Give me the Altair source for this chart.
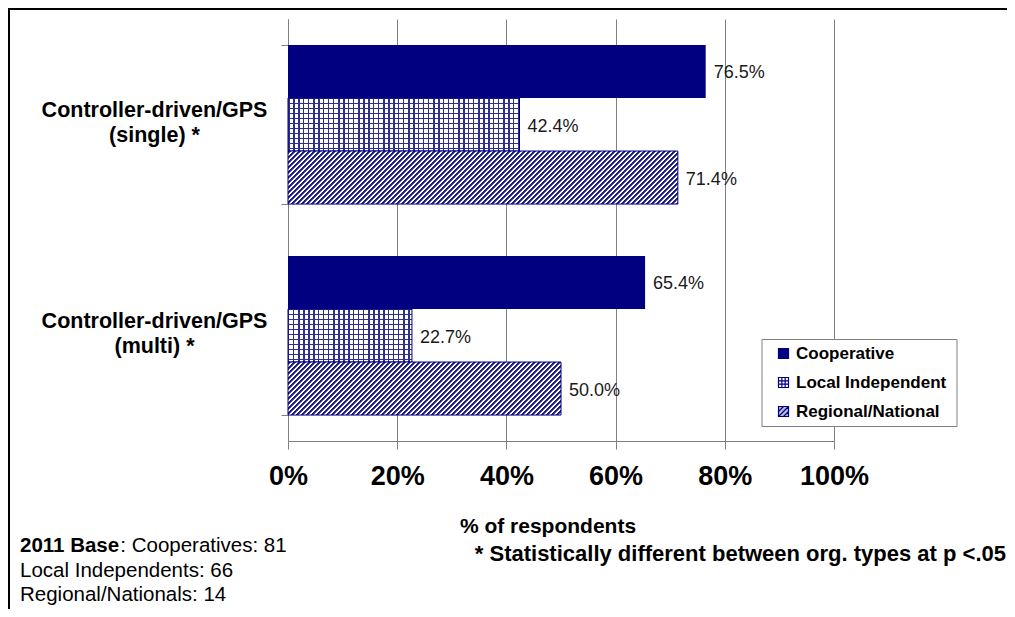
import json
import altair as alt
import pandas as pd

# ---------------- data ----------------
categories = ["Controller-driven/GPS (single) *", "Controller-driven/GPS (multi) *"]
orgs = ["Cooperative", "Local Independent", "Regional/National"]
coop = [76.5, 65.4]
local_ind = [42.4, 22.7]
regional = [71.4, 50.0]
x_ticks = [0, 20, 40, 60, 80, 100]
base_lines = ["Local Independents: 66", "Regional/Nationals: 14"]

# ---------------- style ----------------
FONT = "Liberation Sans, Arial, sans-serif"
NAVY = "#000080"
GRIDC = "#2e2e8c"
HATCH = "#1a1a85"
AXC = "#808080"
W, H = 546, 422
P_IN, P_OUT = 0.246, 0.123
step = H / (len(categories) - P_IN + 2 * P_OUT)
bar_h = step * (1 - P_IN) / len(orgs)

rows = []
for i, c in enumerate(categories):
    for o, vals in zip(orgs, [coop, local_ind, regional]):
        rows.append({"cat": c, "org": o, "value": vals[i], "label": f"{vals[i]:.1f}%"})
df = pd.DataFrame(rows)


def stripes(length, period, width, fg, bg):
    stops = [{"offset": 0, "color": bg}]
    c = 0.0
    while c < length:
        a = round(c / length, 5)
        b = round(min((c + width) / length, 1.0), 5)
        stops += [{"offset": a, "color": bg}, {"offset": a, "color": fg},
                  {"offset": b, "color": fg}, {"offset": b, "color": bg}]
        c += period
    stops.append({"offset": 1, "color": bg})
    return stops


def soft_stripes(length, period, fg, bg):
    # trapezoid profile: soft edges, ~50% coverage
    stops = []
    c = 0.0
    while c < length:
        for frac, col in [(0.0, bg), (0.2, fg), (0.55, fg), (0.75, bg)]:
            o = (c + frac * period) / length
            if o <= 1:
                stops.append({"offset": round(o, 5), "color": col})
        c += period
    stops.append({"offset": 1, "color": bg})
    return stops


def vgrad(w):
    return {"gradient": "linear", "x1": 0, "y1": 0, "x2": 1, "y2": 0,
            "stops": stripes(w, 5.0, 1.5, GRIDC, "#ffffff")}


def hgrad(h):
    return {"gradient": "linear", "x1": 0, "y1": 0, "x2": 0, "y2": 1,
            "stops": stripes(h, 5.0, 1.5, GRIDC, "rgba(255,255,255,0)")}


def dgrad(w, h):
    r = h / w
    a = (1 + r) / (1 + r * r)
    return {"gradient": "linear", "x1": 0, "y1": 0, "x2": a, "y2": a * r,
            "stops": soft_stripes(w + h, 5.0, HATCH, "#ffffff")}


xaxis = alt.Axis(
    values=x_ticks, labelExpr="datum.value + '%'", grid=True, gridColor=AXC, gridWidth=1,
    domainColor=AXC, tickColor=AXC, tickSize=8, labelFont=FONT, labelFontSize=27,
    labelFontWeight="bold", labelColor="black", labelPadding=14, labelFlush=False,
    labelOverlap=False,
    title="% of respondents", titleX=259.5, titleY=91, titleAlign="center",
    titleBaseline="alphabetic", titleFont=FONT, titleFontSize=21, titleFontWeight="bold",
    titleColor="black",
)
yaxis = alt.Axis(
    title=None, domainColor=AXC, tickColor=AXC, tickSize=7, tickBand="extent", grid=False,
    labelExpr="split(replace(datum.label, ' (', '|('), '|')", labelAlign="center",
    labelBaseline="middle", labelPadding=127, labelOffset=-14,
    labelFont=FONT, labelFontSize=21.5, labelFontWeight="bold", labelColor="black",
    labelLimit=400, labelLineHeight=25,
)

base = alt.Chart(df).encode(
    x=alt.X("value:Q", scale=alt.Scale(domain=[0, 100], nice=False, zero=True), axis=xaxis),
    y=alt.Y("cat:N", sort=categories,
            scale=alt.Scale(domain=categories, paddingInner=P_IN, paddingOuter=P_OUT), axis=yaxis),
    yOffset=alt.YOffset("org:N", sort=orgs,
                        scale=alt.Scale(domain=orgs, paddingInner=0, paddingOuter=0)),
)

layers = []
layers.append(base.transform_filter(alt.datum.org == orgs[0]).mark_bar(fill=NAVY))

for r in rows:
    if r["org"] == orgs[0]:
        continue
    w = r["value"] / 100 * W
    flt = f"datum.cat == {json.dumps(r['cat'])} && datum.org == {json.dumps(r['org'])}"
    b = base.transform_filter(flt)
    if r["org"] == orgs[1]:
        layers.append(b.mark_bar(fill=vgrad(w)))
        layers.append(b.mark_bar(fill=hgrad(bar_h), stroke=NAVY, strokeWidth=1))
    else:
        layers.append(b.mark_bar(fill=dgrad(w, bar_h), stroke=NAVY, strokeWidth=1))

layers.append(base.mark_text(align="left", baseline="middle", dx=8, dy=2, font=FONT,
                             fontSize=18, color="#1a1a1a").encode(text="label:N"))

one = pd.DataFrame({"k": [0]})
# legend box
layers.append(alt.Chart(one).mark_rect(fill="white", stroke=AXC, strokeWidth=1).encode(
    x=alt.value(474), x2=alt.value(669), y=alt.value(320.5), y2=alt.value(407.5)))

# legend (symbols via fill + shape + stroke)
paths = [
    "M-1,-1H1V1H-1Z",
    "M-1,-1H1V1H-1Z M-1,-0.33H1 M-1,0.33H1 M-0.33,-1V1 M0.33,-1V1",
    "M-1,-1H1V1H-1Z M-1,1L1,-1 M-1,0L0,-1 M0,1L1,0 M-1,-1L-1,-1",
]
leg = alt.Legend(orient="none", legendX=487, legendY=326, title=None, padding=0,
                 symbolSize=100, symbolStrokeWidth=1.2,
                 labelFont=FONT, labelFontSize=17, labelFontWeight="bold", labelColor="black",
                 labelOffset=4, rowPadding=11, symbolOpacity=1)
leg_df = pd.DataFrame({"org": orgs})
layers.append(alt.Chart(leg_df).mark_point(filled=True, size=100, strokeWidth=1.2).encode(
    x=alt.value(-3000), y=alt.value(-3000),
    fill=alt.Fill("org:N", sort=orgs,
                  scale=alt.Scale(domain=orgs, range=[NAVY, "#ffffff", "#b8b8e0"]), legend=leg),
    stroke=alt.Stroke("org:N", sort=orgs,
                      scale=alt.Scale(domain=orgs, range=[NAVY, NAVY, NAVY]), legend=leg),
    shape=alt.Shape("org:N", sort=orgs, scale=alt.Scale(domain=orgs, range=paths), legend=leg),
))

# frame (left and top)
layers.append(alt.Chart(one).mark_rule(color="black", strokeWidth=2).encode(
    x=alt.value(-279), y=alt.value(-11), y2=alt.value(600)))
layers.append(alt.Chart(one).mark_rule(color="black", strokeWidth=2).encode(
    x=alt.value(-280), x2=alt.value(760), y=alt.value(-10)))

# notes
layers.append(alt.Chart(one).mark_text(align="right", baseline="alphabetic", font=FONT,
                                       fontSize=22, fontWeight="bold", color="black").encode(
    x=alt.value(718), y=alt.value(541.5),
    text=alt.value("* Statistically different between org. types at p <.05")))
BX = -268
FS = 20.5
layers.append(alt.Chart(one).mark_text(align="left", baseline="alphabetic", font=FONT,
                                       fontSize=FS, fontWeight="bold", color="black").encode(
    x=alt.value(BX), y=alt.value(533), text=alt.value("2011 Base")))
layers.append(alt.Chart(one).mark_text(align="left", baseline="alphabetic", font=FONT,
                                       fontSize=FS, color="black").encode(
    x=alt.value(BX + 4.892 * FS), y=alt.value(533), text=alt.value(": Cooperatives: 81")))
for i, t in enumerate(base_lines):
    layers.append(alt.Chart(one).mark_text(align="left", baseline="alphabetic", font=FONT,
                                           fontSize=FS, color="black").encode(
        x=alt.value(BX), y=alt.value(557.5 + 24.5 * i), text=alt.value(t)))

chart = alt.layer(*layers).properties(
    width=W, height=H,
    autosize=alt.AutoSizeParams(type="none"),
    padding={"left": 280, "top": 11, "right": 173, "bottom": 168},
    background="white",
).configure_view(stroke=None)

chart.save("out.html", embed_options={"renderer": "svg", "actions": False})
